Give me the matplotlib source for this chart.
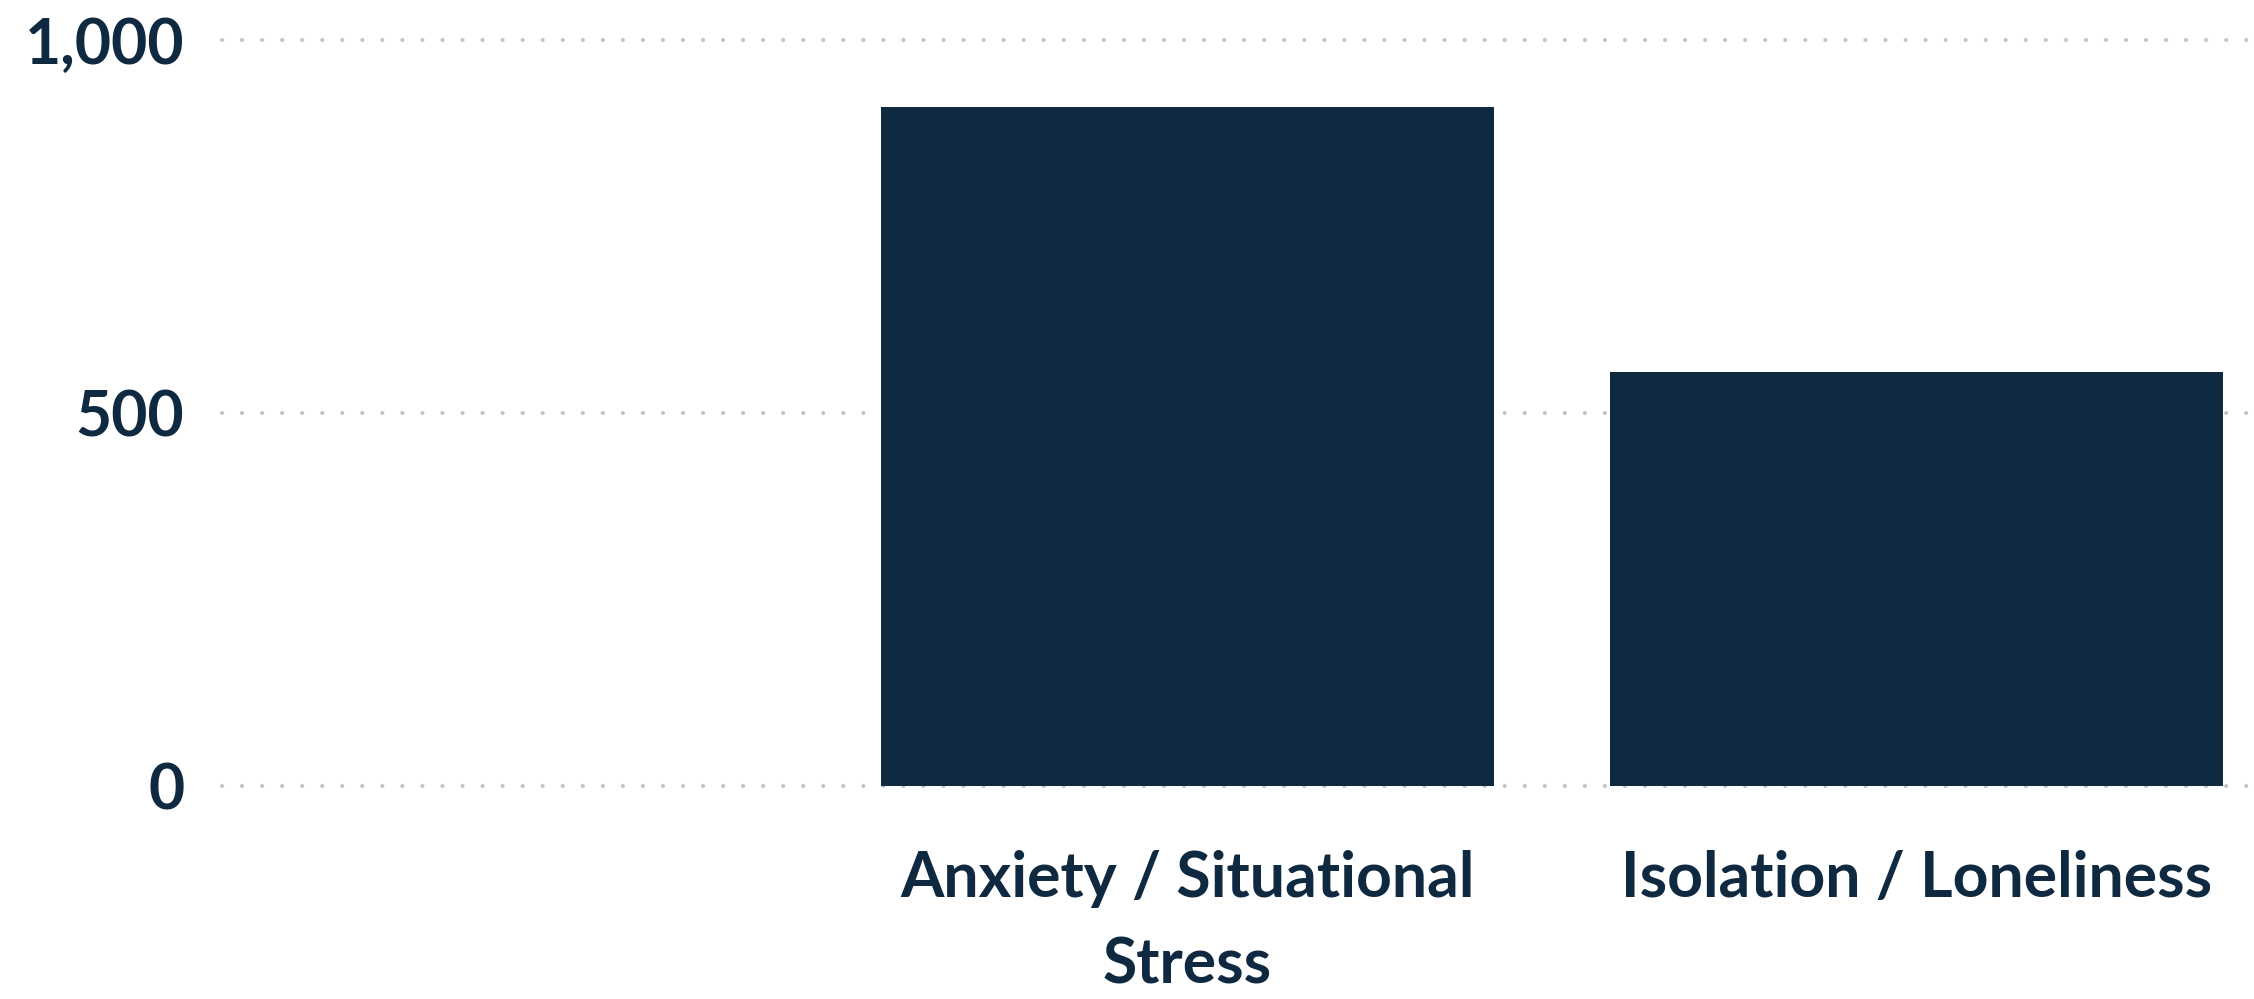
import textwrap
import matplotlib
matplotlib.use("Agg")
import matplotlib.pyplot as plt
from matplotlib.ticker import FuncFormatter

# issues by count
categories = ["Anxiety / Situational Stress", "Isolation / Loneliness"]
counts = [910, 555]
yticks = [0, 500, 1000]

navy = "#0f2940"
plt.rcParams["font.family"] = ["Lato", "DejaVu Sans"]

fig = plt.figure(figsize=(22.54, 9.99), dpi=100)
ax = fig.add_axes([222 / 2254, 1 - 786 / 999, (2250 - 222) / 2254, 746 / 999])

x = range(len(categories))
ax.bar(x, counts, width=0.841, color=navy, zorder=3)

ax.set_xlim(-1.325, 1.458)
ax.set_ylim(0, 1000)
ax.set_yticks(yticks)
ax.yaxis.set_major_formatter(FuncFormatter(lambda v, p: f"{v:,.0f}"))
ax.set_xticks(list(x))
ax.set_xticklabels([textwrap.fill(c, 22) for c in categories],
                   linespacing=1.6)

for lab in ax.get_xticklabels() + ax.get_yticklabels():
    lab.set_fontsize(45)
    lab.set_fontweight("bold")
    lab.set_color(navy)

ax.tick_params(axis="y", length=0, pad=27)
ax.tick_params(axis="x", length=0, pad=46)

# dotted horizontal gridlines
ax.grid(axis="y", color="#c4c4c4", linewidth=3.0, linestyle=(0, (0.01, 4.8)))
for gl in ax.get_ygridlines():
    gl.set_dash_capstyle("round")
    gl.set_clip_on(False)
ax.set_axisbelow(True)

for s in ax.spines.values():
    s.set_visible(False)

fig.savefig("out.png", dpi=100)
